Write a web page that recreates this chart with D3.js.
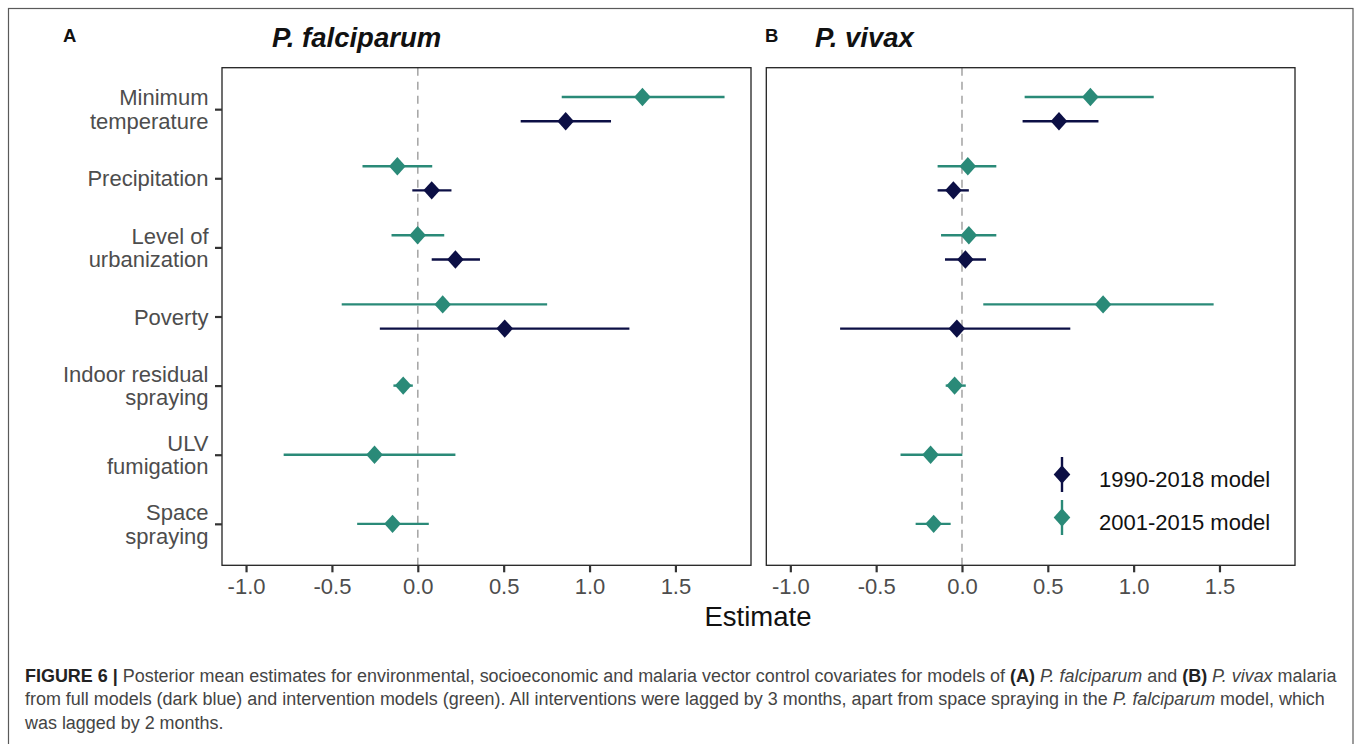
<!DOCTYPE html>
<html>
<head>
<meta charset="utf-8">
<script src="https://cdn.jsdelivr.net/npm/d3@7"></script>
<style>
  html, body { margin: 0; padding: 0; background: #fff; }
  svg { display: block; font-family: "Liberation Sans", Arial, Helvetica, sans-serif; }
</style>
</head>
<body>
<div id="chart"></div>
<script>
// Covariates, top to bottom
const categories = [
  'Minimum temperature', 'Precipitation', 'Level of urbanization', 'Poverty',
  'Indoor residual spraying', 'ULV fumigation', 'Space spraying'
];
const categoryLines = [
  ['Minimum', 'temperature'], ['Precipitation'], ['Level of', 'urbanization'], ['Poverty'],
  ['Indoor residual', 'spraying'], ['ULV', 'fumigation'], ['Space', 'spraying']
];

// P. falciparum, full model (1990-2018)
const falcFullEst = [0.861, 0.081, 0.219, 0.506, null, null, null];
const falcFullLo = [0.599, -0.032, 0.081, -0.221, null, null, null];
const falcFullHi = [1.125, 0.196, 0.362, 1.232, null, null, null];
// P. falciparum, intervention model (2001-2015)
const falcIntEst = [1.308, -0.119, -0.001, 0.145, -0.085, -0.252, -0.147];
const falcIntLo = [0.838, -0.322, -0.153, -0.443, -0.142, -0.781, -0.353];
const falcIntHi = [1.786, 0.084, 0.154, 0.753, -0.029, 0.219, 0.064];

// P. vivax, full model (1990-2018)
const vivFullEst = [0.565, -0.050, 0.020, -0.030, null, null, null];
const vivFullLo = [0.353, -0.142, -0.099, -0.710, null, null, null];
const vivFullHi = [0.795, 0.040, 0.140, 0.631, null, null, null];
// P. vivax, intervention model (2001-2015)
const vivIntEst = [0.748, 0.034, 0.040, 0.822, -0.043, -0.183, -0.165];
const vivIntLo = [0.365, -0.142, -0.122, 0.124, -0.095, -0.358, -0.270];
const vivIntHi = [1.117, 0.200, 0.200, 1.466, 0.022, 0.002, -0.066];

const xTicks = [-1.0, -0.5, 0.0, 0.5, 1.0, 1.5];
const legendLabels = ['1990-2018 model', '2001-2015 model'];
const modelColors = ['#0c0f45', '#2a8a78'];

const W = 1357, H = 744;
const svg = d3.select('#chart').append('svg')
  .attr('width', W)
  .attr('height', H);

// outer figure frame
svg.append('rect')
  .attr('x', 8.5).attr('y', 8.5)
  .attr('width', 1344.5).attr('height', 780)
  .attr('fill', 'none')
  .attr('stroke', '#5a5a5a')
  .attr('stroke-width', 1.2);

const plotTop = 67.7, plotBottom = 565.3;
const y = d3.scalePoint()
  .domain(categories)
  .range([plotTop, plotBottom])
  .padding(0.6);
const dodge = y.step() * 0.175;

function buildRows(fullEst, fullLo, fullHi, intEst, intLo, intHi) {
  const rows = [];
  categories.forEach((c, i) => {
    const hasFull = fullEst[i] !== null;
    if (hasFull) {
      rows.push({ cat: c, model: 0, est: fullEst[i], lo: fullLo[i], hi: fullHi[i], off: dodge });
    }
    rows.push({ cat: c, model: 1, est: intEst[i], lo: intLo[i], hi: intHi[i], off: hasFull ? -dodge : 0 });
  });
  return rows;
}

const panels = [
  { letter: 'A', title: 'P. falciparum', left: 222, right: 751, letterX: 63, titleX: 272, yLabels: true,
    rows: buildRows(falcFullEst, falcFullLo, falcFullHi, falcIntEst, falcIntLo, falcIntHi) },
  { letter: 'B', title: 'P. vivax', left: 766.3, right: 1295, letterX: 765, titleX: 815, yLabels: false,
    rows: buildRows(vivFullEst, vivFullLo, vivFullHi, vivIntEst, vivIntLo, vivIntHi) }
];

const diamond = (cx, cy, hw, hh) => `M${cx},${cy - hh}L${cx + hw},${cy}L${cx},${cy + hh}L${cx - hw},${cy}Z`;

panels.forEach(p => {
  const x = d3.scaleLinear().domain([-1.14, 1.94]).range([p.left, p.right]);
  const g = svg.append('g');

  // panel letter and title
  g.append('text')
    .attr('x', p.letterX).attr('y', 41.5)
    .attr('font-size', 18.5).attr('font-weight', 'bold')
    .attr('fill', '#111')
    .text(p.letter);
  g.append('text')
    .attr('x', p.titleX).attr('y', 47)
    .attr('font-size', 27.5).attr('font-weight', 'bold').attr('font-style', 'italic')
    .attr('fill', '#111')
    .text(p.title);

  // zero reference line
  g.append('line')
    .attr('x1', x(0)).attr('x2', x(0))
    .attr('y1', plotTop).attr('y2', plotBottom)
    .attr('stroke', '#a8a8a8')
    .attr('stroke-width', 1.6)
    .attr('stroke-dasharray', '8,6');

  // error bars
  g.selectAll('line.bar')
    .data(p.rows)
    .enter()
    .append('line')
    .attr('class', 'bar')
    .attr('x1', d => x(d.lo)).attr('x2', d => x(d.hi))
    .attr('y1', d => y(d.cat) + d.off).attr('y2', d => y(d.cat) + d.off)
    .attr('stroke', d => modelColors[d.model])
    .attr('stroke-width', 2.4);

  // point estimates
  g.selectAll('path.pt')
    .data(p.rows)
    .enter()
    .append('path')
    .attr('class', 'pt')
    .attr('d', d => diamond(x(d.est), y(d.cat) + d.off, 8.3, 9.2))
    .attr('fill', d => modelColors[d.model]);

  // panel border
  g.append('rect')
    .attr('x', p.left).attr('y', plotTop)
    .attr('width', p.right - p.left).attr('height', plotBottom - plotTop)
    .attr('fill', 'none')
    .attr('stroke', '#222')
    .attr('stroke-width', 1.3);

  // x axis (plain hyphen for negatives, as in the figure)
  const xAxis = g.append('g')
    .attr('transform', `translate(0,${plotBottom})`)
    .call(d3.axisBottom(x).tickValues(xTicks).tickFormat(d => d.toFixed(1)).tickSize(7).tickPadding(6));
  xAxis.select('.domain').remove();
  xAxis.selectAll('.tick line').attr('stroke', '#333').attr('stroke-width', 2.2);
  xAxis.selectAll('.tick text')
    .attr('font-size', 22)
    .attr('font-family', '"Liberation Sans", Arial, sans-serif')
    .attr('fill', '#4d4d4d');

  // y axis ticks
  const yAxis = g.append('g')
    .attr('transform', `translate(${p.left},0)`)
    .call(d3.axisLeft(y).tickSize(p.yLabels ? 7 : 0).tickFormat(''));
  yAxis.select('.domain').remove();
  yAxis.selectAll('.tick line').attr('stroke', '#333').attr('stroke-width', 2.2);

  if (p.yLabels) {
    const lab = g.selectAll('text.ylab')
      .data(categories)
      .enter()
      .append('text')
      .attr('class', 'ylab')
      .attr('text-anchor', 'end')
      .attr('font-size', 22)
      .attr('fill', '#4d4d4d');
    lab.each(function(c, i) {
      const lines = categoryLines[i];
      const t = d3.select(this);
      lines.forEach((ln, j) => {
        t.append('tspan')
          .attr('x', 208.5)
          .attr('y', y(c) + 8 + (j - (lines.length - 1) / 2) * 23.5)
          .text(ln);
      });
    });
  }
});

// shared x axis title
svg.append('text')
  .attr('x', 758).attr('y', 626)
  .attr('text-anchor', 'middle')
  .attr('font-size', 27.5)
  .attr('fill', '#111')
  .text('Estimate');

// legend
const legend = svg.append('g');
legendLabels.forEach((lbl, i) => {
  const cy = 474.5 + i * 43;
  legend.append('line')
    .attr('x1', 1062).attr('x2', 1062)
    .attr('y1', cy - 17.5).attr('y2', cy + 17.5)
    .attr('stroke', modelColors[i])
    .attr('stroke-width', 2.4);
  legend.append('path')
    .attr('d', diamond(1062, cy, 8.3, 9.2))
    .attr('fill', modelColors[i]);
  legend.append('text')
    .attr('x', 1099).attr('y', cy + 12)
    .attr('font-size', 22)
    .attr('fill', '#111')
    .text(lbl);
});

// figure caption
const captionLines = [
  [['FIGURE 6 | ', 'b'], ['Posterior mean estimates for environmental, socioeconomic and malaria vector control covariates for models of ', ''],
   ['(A)', 'b'], [' ', ''], ['P. falciparum', 'i'], [' and ', ''], ['(B)', 'b'], [' ', ''], ['P. vivax', 'i'], [' malaria', '']],
  [['from full models (dark blue) and intervention models (green). All interventions were lagged by 3 months, apart from space spraying in the ', ''],
   ['P. falciparum', 'i'], [' model, which', '']],
  [['was lagged by 2 months.', '']]
];
const capText = captionLines.map((parts, i) => {
  const t = svg.append('text')
    .attr('x', 25).attr('y', 681.5 + i * 23.5)
    .attr('font-size', 14.5)
    .attr('fill', '#444')
    .attr('xml:space', 'preserve');
  parts.forEach(([s, st]) => {
    t.append('tspan')
      .attr('font-weight', st === 'b' ? 'bold' : null)
      .attr('font-style', st === 'i' ? 'italic' : null)
      .attr('fill', st === 'b' ? '#222' : null)
      .text(s);
  });
  return t;
});
// fit the first caption line to the width it has in the figure
const w0 = capText[0].node().getComputedTextLength();
const fs = 14.5 * 1312 / w0;
capText.forEach(t => t.attr('font-size', fs));
</script>
</body>
</html>
